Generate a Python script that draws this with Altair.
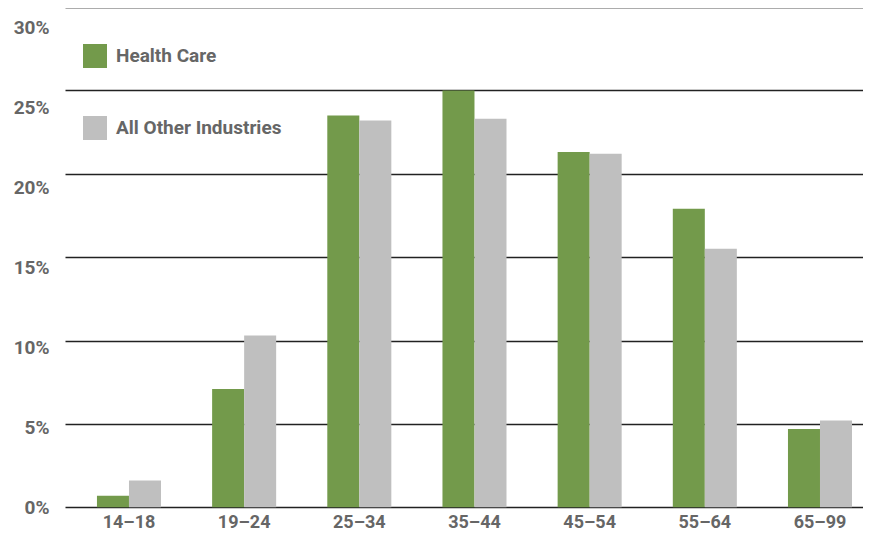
import altair as alt
import pandas as pd

age_groups = ["14–18", "19–24", "25–34", "35–44", "45–54", "55–64", "65–99"]
health_care = [0.7, 7.1, 23.5, 25.0, 21.3, 17.9, 4.7]
all_other = [1.6, 10.3, 23.2, 23.3, 21.2, 15.5, 5.2]
series_names = ["Health Care", "All Other Industries"]
series_colors = ["#739a4b", "#bfbfbf"]
y_ticks = [0, 5, 10, 15, 20, 25, 30]

rows = []
for i, g in enumerate(age_groups):
    rows.append({"age": g, "series": series_names[0], "value": health_care[i]})
    rows.append({"age": g, "series": series_names[1], "value": all_other[i]})
df = pd.DataFrame(rows)

FONT = "Roboto"
TXT = "#666666"
FS = 19

label_offsets = {"condition": [
    {"test": f"datum.value == {v}", "value": round(v * 0.69, 1)} for v in y_ticks if v > 0
], "value": 0}

chart = alt.Chart(df).mark_bar().encode(
    x=alt.X("age:N", sort=age_groups, title=None,
            scale=alt.Scale(paddingInner=0.444, paddingOuter=0.1865, align=0.744),
            axis=alt.Axis(labelAngle=0, ticks=False, domain=False, grid=False,
                          labelFont=FONT, labelFontSize=18, labelFontWeight="bold",
                          labelColor=TXT, labelPadding=5)),
    xOffset=alt.XOffset("series:N", sort=series_names),
    y=alt.Y("value:Q", title=None,
            scale=alt.Scale(domain=[0, 30], range=[499.3, -1.0], nice=False, zero=True),
            axis=alt.Axis(values=y_ticks, labelExpr="datum.value + '%'",
                          ticks=False, domain=False, grid=True,
                          gridColor={"condition": {"test": "datum.value == 30", "value": "#5a5a5a"}, "value": "#222222"},
                          gridWidth={"condition": {"test": "datum.value == 30", "value": 2}, "value": 1.4},
                          labelFont=FONT, labelFontSize=FS, labelFontWeight="bold",
                          labelColor=TXT, labelPadding=16, labelAlign="right",
                          labelOffset=label_offsets,
                          minExtent=57, maxExtent=57)),
    color=alt.Color("series:N", sort=series_names, title=None,
                    scale=alt.Scale(domain=series_names, range=series_colors),
                    legend=alt.Legend(orient="none", legendX=18, legendY=36,
                                      symbolType="square", symbolSize=576,
                                      symbolStrokeWidth=0, rowPadding=48,
                                      labelFont=FONT, labelFontSize=FS, labelFontWeight="bold",
                                      labelColor=TXT, labelOffset=9, padding=0,
                                      labelLimit=0, symbolOpacity=1)),
).properties(
    width=798, height=500,
    padding={"left": 0, "top": 0, "right": 0, "bottom": 0},
).configure_view(stroke=None)

chart.save("out.html", embed_options={"renderer": "svg", "actions": False})
